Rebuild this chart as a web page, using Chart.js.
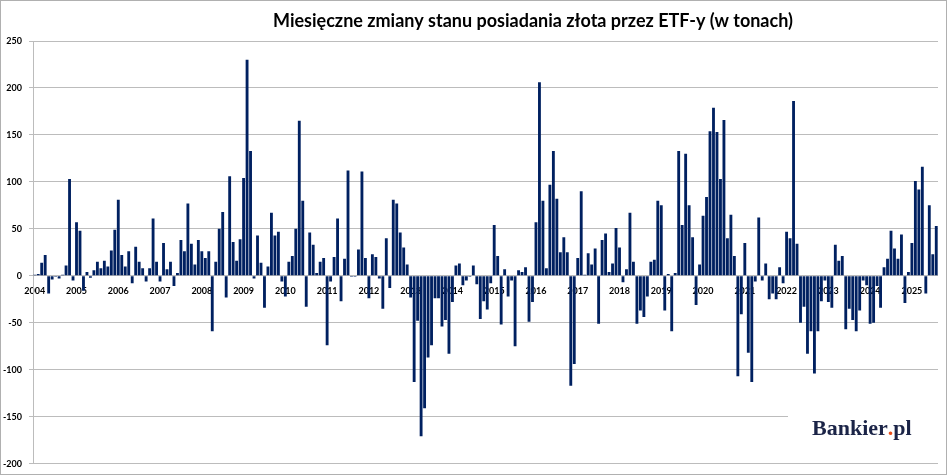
<!DOCTYPE html>
<html>
<head>
<meta charset="utf-8">
<script src="https://cdn.jsdelivr.net/npm/chart.js@4.4.1/dist/chart.umd.min.js"></script>
<style>
  html, body { margin: 0; padding: 0; background: #fff; }
  #wrap { width: 948px; height: 476px; }
</style>
</head>
<body>
<div id="wrap"><canvas id="myChart"></canvas></div>
<script>
// Lata na osi X (etykieta co 12 miesięcy)
const years = ['2004', '2005', '2006', '2007', '2008', '2009', '2010', '2011', '2012', '2013', '2014',
               '2015', '2016', '2017', '2018', '2019', '2020', '2021', '2022', '2023', '2024', '2025'];
const months = ['01', '02', '03', '04', '05', '06', '07', '08', '09', '10', '11', '12'];
const lastMonth2025 = 8;

// Zmiany miesięczne (tony)
const tonnes = [
  1, 2, 14, 22, -19, -4, -1, -3, 1, 11, 103, -5,          // 2004
  57, 48, -16, 4, -2, 6, 15, 8, 16, 10, 27, 49,            // 2005
  81, 22, 10, 26, -8, 31, 15, 8, -6, 8, 61, 15,            // 2006
  -6, 35, 7, 15, -11, 3, 38, 26, 77, 34, 12, 38,           // 2007
  26, 19, 26, -59, 15, 50, 68, -23, 106, 36, 16, 39,       // 2008
  104, 230, 133, -3, 43, 14, -34, 10, 67, 43, 47, -6,      // 2009
  -22, 15, 21, 50, 165, 80, -33, 46, 33, 3, 15, 19,        // 2010
  -74, -6, 20, 61, -27, 18, 112, -1, -1, 28, 111, 19,      // 2011
  -24, 23, 20, -3, -35, 40, -13, 81, 77, 46, 30, 12,       // 2012
  -23, -113, -48, -171, -141, -87, -74, -24, -24, -54, -47, -83, // 2013
  -28, 11, 13, -10, -5, -1, 11, -9, -46, -27, -36, -8,     // 2014
  54, 21, -52, 7, -22, -5, -75, 6, 4, 9, -49, -28,         // 2015
  57, 206, 80, 8, 97, 133, 82, 25, 41, 25, -117, -94,      // 2016
  19, 90, 1, 24, 12, 29, -51, 38, 45, 4, 13, 51,           // 2017
  30, -7, 7, 67, 15, -51, -37, -44, -22, 15, 17, 80,       // 2018
  75, -37, 2, -59, 3, 133, 54, 130, 75, 41, -31, 12,       // 2019
  64, 84, 154, 179, 153, 103, 166, 40, 65, 21, -107, -41,  // 2020
  35, -82, -113, -6, 62, -5, 13, -25, -19, -25, 9, -8,     // 2021
  47, 40, 186, 34, -50, -33, -83, -59, -104, -59, -27, -5, // 2022
  -28, -34, 33, 16, 21, -57, -35, -47, -59, -37, -5, -10,  // 2023
  -51, -50, -11, -34, 9, 18, 48, 29, 18, 44, -29, 4,       // 2024
  35, 101, 92, 116, -19, 75, 23, 53                        // 2025
];

const yTicks = [250, 200, 150, 100, 50, 0, -50, -100, -150, -200];

// etykiety kategorii: rok-miesiąc
const labels = [];
years.forEach(y => {
  months.forEach((m, k) => {
    if (y === '2025' && k >= lastMonth2025) return;
    labels.push(y + '-' + m);
  });
});

const decor = {
  id: 'decor',
  beforeDraw(chart) {
    const c = chart.ctx;
    c.save();
    c.fillStyle = '#ffffff';
    c.fillRect(0, 0, chart.width, chart.height);
    c.restore();
  },
  afterDraw(chart) {
    const c = chart.ctx;
    c.save();
    // tytuł
    c.fillStyle = '#000000';
    c.font = 'bold 18px Lato';
    c.textAlign = 'center';
    c.textBaseline = 'middle';
    c.fillText('Miesięczne zmiany stanu posiadania złota przez ETF-y (w tonach)', 533, 21);

    // logo
    c.fillStyle = '#ffffff';
    c.fillRect(788, 398, 152, 56);
    c.font = 'bold 22px "Liberation Serif"';
    c.textAlign = 'left';
    c.textBaseline = 'alphabetic';
    let x = 812;
    const yb = 435;
    c.fillStyle = '#1b2447';
    c.fillText('Bankier', x, yb);
    x += c.measureText('Bankier').width;
    c.fillStyle = '#e94e1b';
    c.fillText('.', x, yb);
    x += c.measureText('.').width;
    c.fillStyle = '#1b2447';
    c.fillText('pl', x, yb);

    // ramka
    c.strokeStyle = '#b0b0b0';
    c.lineWidth = 1;
    c.strokeRect(0.5, 0.5, 946, 474);
    c.restore();
  }
};

const ctx = document.getElementById('myChart').getContext('2d');
const myChart = new Chart(ctx, {
  type: 'bar',
  data: {
    labels: labels,
    datasets: [{
      label: 'Zmiana (t)',
      data: tonnes,
      backgroundColor: '#002060',
      borderWidth: 0,
      categoryPercentage: 0.82,
      barPercentage: 1.0
    }]
  },
  options: {
    responsive: true,
    maintainAspectRatio: false,
    animation: false,
    layout: { padding: { left: 0, right: 10, top: 41, bottom: 11 } },
    plugins: {
      legend: { display: false },
      tooltip: { enabled: false },
      title: { display: false }
    },
    scales: {
      x: {
        type: 'category',
        position: { y: 0 },
        grid: { display: false },
        border: { display: false },
        ticks: {
          autoSkip: false,
          maxRotation: 0,
          minRotation: 0,
          padding: 2,
          color: '#000000',
          font: { family: 'Lato', size: 9, weight: 'bold' },
          callback: (v, i) => (i % 12 === 0 ? years[i / 12] : '')
        }
      },
      y: {
        min: -200,
        max: 250,
        afterBuildTicks: s => { s.ticks = yTicks.map(v => ({ value: v })); },
        afterFit: s => { s.width = 33; },
        grid: { color: '#bcbcbc', tickLength: 4, lineWidth: 1 },
        border: { display: true, color: '#bcbcbc' },
        ticks: {
          padding: 7,
          color: '#000000',
          font: { family: 'Lato', size: 9, weight: 'bold' }
        }
      }
    }
  },
  plugins: [decor]
});
</script>
</body>
</html>
